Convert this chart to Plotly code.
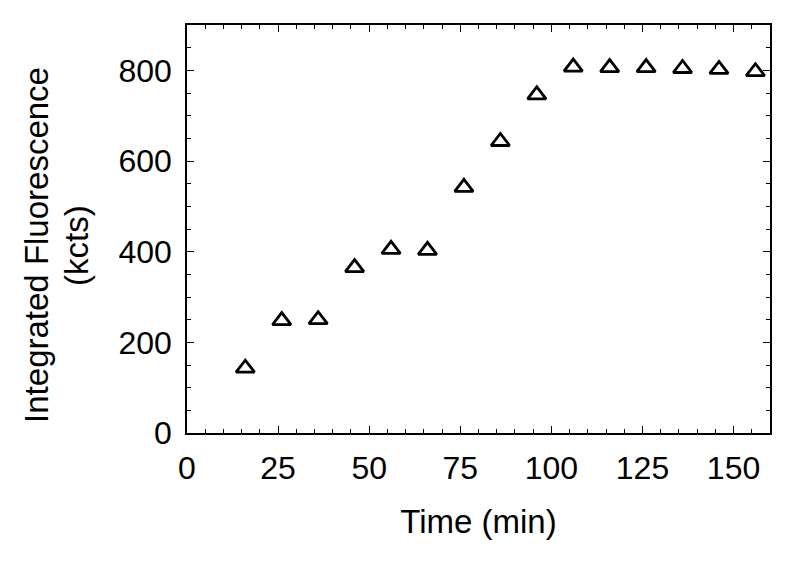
import plotly.graph_objects as go

time_min = [16, 26, 36, 46, 56, 66, 76, 86, 96, 106, 116, 126, 136, 146, 156]
fluor_kcts = [143, 248, 250, 365, 405, 403, 542, 643, 746, 807, 806, 806, 804, 802, 797]

x_ticks = [0, 25, 50, 75, 100, 125, 150]
y_ticks = [0, 200, 400, 600, 800]
y_title_lines = ["Integrated Fluorescence", "(kcts)"]

fig = go.Figure()
fig.add_trace(go.Scatter(
    x=time_min, y=fluor_kcts, mode="markers",
    marker=dict(symbol="triangle-up-open", size=16, color="black", line=dict(width=2.8, color="black")),
    showlegend=False,
))

font_family = "Liberation Sans, Arial, sans-serif"
axis_common = dict(
    showline=True, linecolor="black", linewidth=1.5, mirror="allticks",
    ticks="inside", ticklen=7, tickwidth=1.2, tickcolor="black",
    showgrid=False, zeroline=False,
    tickfont=dict(family=font_family, size=32, color="black"),
)

fig.update_xaxes(
    range=[0, 160], tickvals=x_ticks,
    minor=dict(dtick=5, tick0=0, ticks="inside", ticklen=4, tickwidth=1.2, tickcolor="black"),
    title=dict(text="Time (min)", font=dict(family=font_family, size=33, color="black"), standoff=25),
    ticklabelstandoff=6,
    **axis_common,
)
fig.update_yaxes(
    range=[0, 900], tickvals=y_ticks,
    minor=dict(dtick=50, tick0=0, ticks="inside", ticklen=4, tickwidth=1.2, tickcolor="black"),
    ticklabelstandoff=7,
    **axis_common,
)

# Y title as two rotated lines
for xpos, txt in zip([-0.2573, -0.1887], y_title_lines):
    fig.add_annotation(
        text=txt, xref="paper", yref="paper", x=xpos, y=0.461,
        xanchor="center", yanchor="middle", textangle=-90, showarrow=False,
        font=dict(family=font_family, size=33, color="black"),
    )

fig.update_layout(
    width=788, height=557,
    margin=dict(l=179, r=26, t=17, b=132),
    paper_bgcolor="white", plot_bgcolor="white",
)

fig.write_html("out.html")
